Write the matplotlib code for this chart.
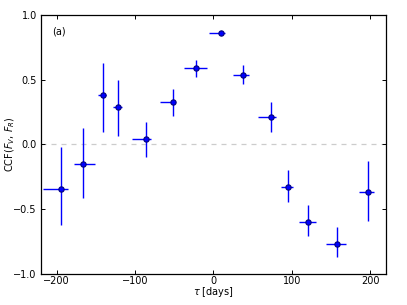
import matplotlib
matplotlib.use("Agg")
import matplotlib.pyplot as plt
import numpy as np

# data
tau = [-194, -166, -141, -122, -86, -52, -22, 9, 38, 73, 95, 121, 158, 197]
ccf = [-0.34, -0.15, 0.38, 0.29, 0.04, 0.33, 0.59, 0.86, 0.54, 0.215, -0.325, -0.595, -0.765, -0.37]
tau_lo = [-218, -178, -147, -128, -104, -68, -37, -6, 25, 57, 86, 109, 144, 186]
tau_hi = [-186, -151, -137, -117, -80, -49, -8, 15, 45, 80, 102, 131, 169, 205]
ccf_lo = [-0.62, -0.415, 0.10, 0.065, -0.10, 0.22, 0.52, 0.85, 0.465, 0.10, -0.445, -0.705, -0.865, -0.59]
ccf_hi = [-0.02, 0.13, 0.63, 0.495, 0.17, 0.425, 0.65, 0.87, 0.615, 0.325, -0.195, -0.465, -0.635, -0.125]

tau = np.array(tau, float)
ccf = np.array(ccf, float)
xerr = np.vstack([tau - np.array(tau_lo), np.array(tau_hi) - tau])
yerr = np.vstack([ccf - np.array(ccf_lo), np.array(ccf_hi) - ccf])

plt.rcParams['font.family'] = ['DejaVu Sans']
plt.rcParams['mathtext.fontset'] = 'dejavusans'

fig = plt.figure(figsize=(4.07, 3.05), dpi=100)
ax = fig.add_axes([0.1007, 0.1016, 0.8477, 0.8494])

ax.axhline(0, color='#cccccc', ls=(0, (4, 4)), lw=0.9, zorder=1)
ax.errorbar(tau, ccf, xerr=xerr, yerr=yerr, fmt='o', color='blue',
            ecolor='blue', elinewidth=1.0, capsize=0, ms=3.8,
            mfc='blue', mec='#00007a', mew=0.8, zorder=3)

ax.set_xlim(-220, 220)
ax.set_ylim(-1.0, 1.0)
ax.set_xticks([-200, -100, 0, 100, 200])
ax.set_yticks([-1.0, -0.5, 0.0, 0.5, 1.0])
ax.tick_params(direction='in', top=True, right=True, length=3, width=0.7,
               labelsize=7)
ax.tick_params(axis='x', pad=1.5)
ax.tick_params(axis='y', pad=3)
for s in ax.spines.values():
    s.set_linewidth(0.9)
    s.set_color('black')

ax.set_xlabel(r'$\tau$ [days]', fontsize=7)
ax.set_ylabel(r'CCF$(F_V,\, F_R)$', fontsize=7)
ax.xaxis.label.set_verticalalignment('center')
ax.yaxis.label.set_verticalalignment('center')
ax.xaxis.set_label_coords(0.5, -0.068)
ax.yaxis.set_label_coords(-0.09, 0.5)
ax.text(0.032, 0.935, '(a)', transform=ax.transAxes, fontsize=7,
        ha='left', va='center')

fig.savefig('out.png', dpi=100)
